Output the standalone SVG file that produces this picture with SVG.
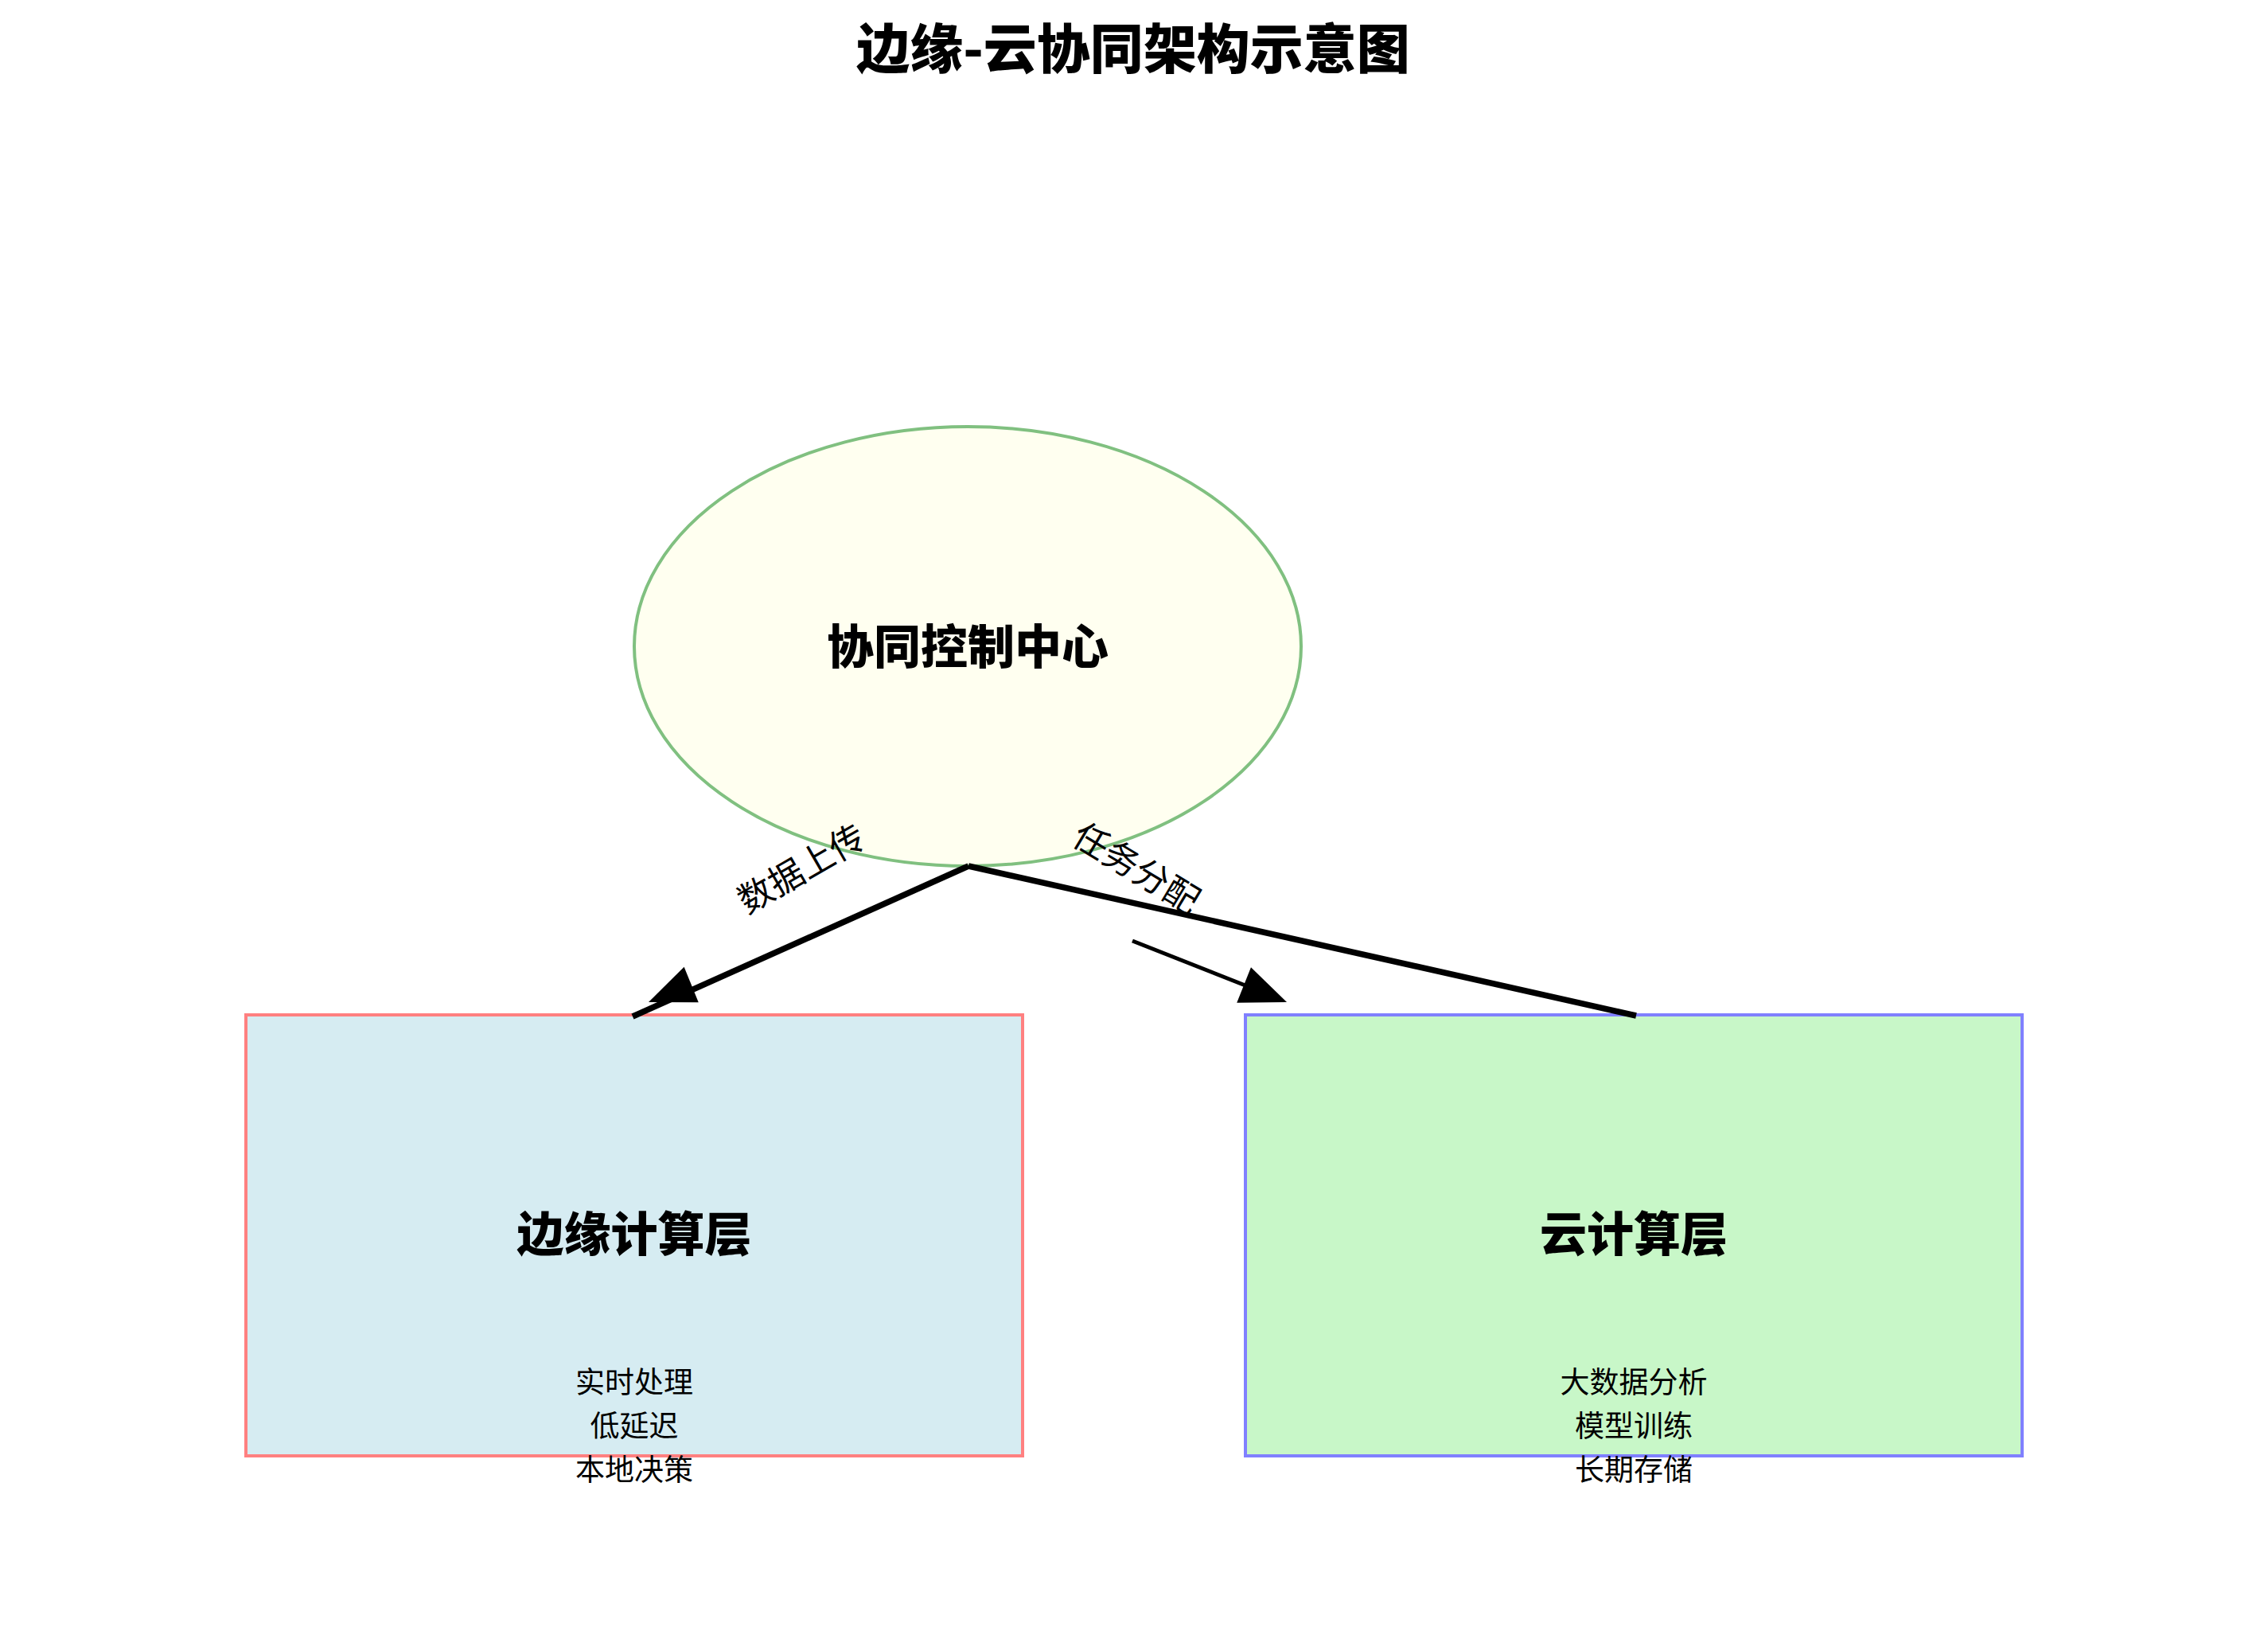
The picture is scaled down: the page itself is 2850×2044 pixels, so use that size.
<svg xmlns="http://www.w3.org/2000/svg" xmlns:xlink="http://www.w3.org/1999/xlink" width="2850" height="2044" viewBox="0 0 2850 2044">
  <style>
    text { font-family: "Noto Sans CJK SC", "Noto Sans", sans-serif; fill: #000; text-anchor: middle; }
    .title { font-size: 67px; font-weight: 900; }
    .head { font-size: 59px; font-weight: 900; }
    .sub { font-size: 37px; }
    .elabel { font-size: 44px; }
    .conn { stroke: #000; stroke-width: 7.5; fill: none; }
    .conn-thin { stroke: #000; stroke-width: 5; fill: none; }
  </style>
  <defs>
    <path id="arrowhead" d="M0,0 L-58,-24 L-58,24 Z" fill="#000"/>
  </defs>
  <rect width="2850" height="2044" fill="#fff"/>

  <text class="title" x="1424" y="86">边缘-云协同架构示意图</text>

  <g id="node-control">
    <ellipse cx="1216" cy="812" rx="419" ry="276" fill="#fffff0" stroke="#80c080" stroke-width="4"/>
    <text class="head" x="1216" y="834">协同控制中心</text>
  </g>

  <g id="node-edge">
    <rect x="309" y="1275" width="976" height="554" fill="#d6ecf2" stroke="#ff8080" stroke-width="4"/>
    <text class="head" x="797" y="1572">边缘计算层</text>
    <text class="sub" x="797" y="1750">实时处理</text>
    <text class="sub" x="797" y="1805">低延迟</text>
    <text class="sub" x="797" y="1860">本地决策</text>
  </g>

  <g id="node-cloud">
    <rect x="1565" y="1275" width="976" height="554" fill="#c8f7c8" stroke="#8080ff" stroke-width="4"/>
    <text class="head" x="2053" y="1572">云计算层</text>
    <text class="sub" x="2053" y="1750">大数据分析</text>
    <text class="sub" x="2053" y="1805">模型训练</text>
    <text class="sub" x="2053" y="1860">长期存储</text>
  </g>

  <g id="connectors">
    <line class="conn" x1="1217" y1="1088" x2="795" y2="1277"/>
    <use xlink:href="#arrowhead" transform="translate(815,1259) rotate(157.8)"/>
    <line class="conn" x1="1217" y1="1088" x2="2056" y2="1276"/>
    <line class="conn-thin" x1="1423" y1="1182" x2="1575" y2="1242"/>
    <use xlink:href="#arrowhead" transform="translate(1617,1259) rotate(21.7)"/>
    <text class="elabel" transform="translate(1015,1105) rotate(-30)" x="0" y="0">数据上传</text>
    <text class="elabel" transform="translate(1420,1104) rotate(31)" x="0" y="0">任务分配</text>
  </g>
</svg>
